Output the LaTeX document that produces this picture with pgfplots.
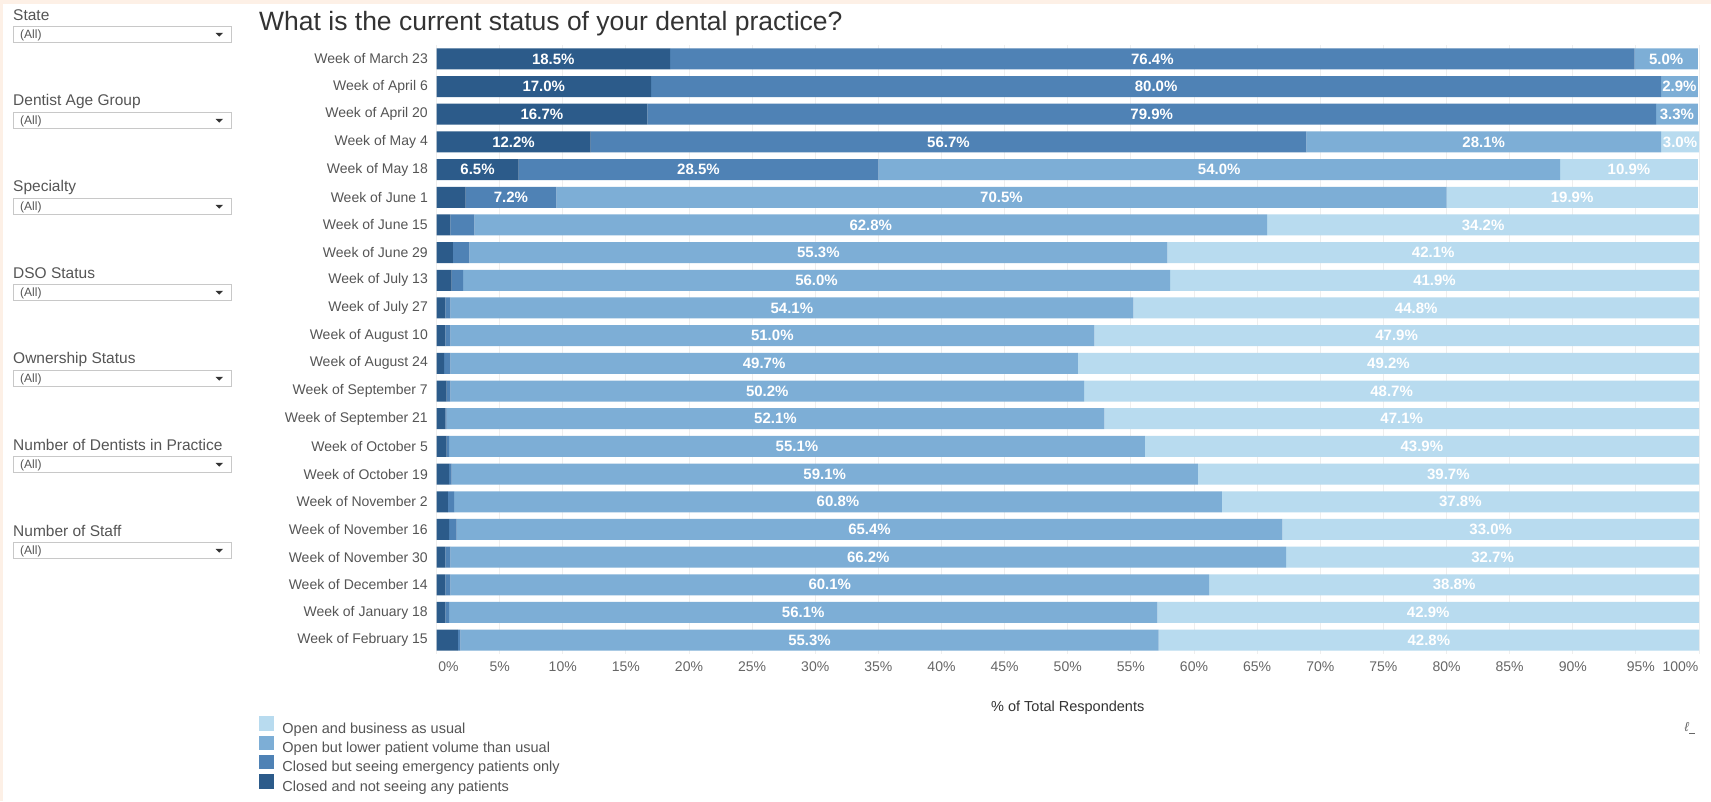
\documentclass[border=0pt]{standalone}
\usepackage{pgfplots}
\pgfplotsset{compat=1.18}
\usepackage{pgfplotstable}
\usepackage{fontspec}
\setmainfont{Liberation Sans}
\definecolor{cA}{HTML}{2C5B8A}
\definecolor{cB}{HTML}{4F82B5}
\definecolor{cC}{HTML}{7DAED6}
\definecolor{cD}{HTML}{B8DBEF}
\definecolor{txt}{HTML}{555555}
\definecolor{tickc}{HTML}{666666}
\definecolor{titlec}{HTML}{333333}
\definecolor{gridc}{HTML}{EEEEEE}
\definecolor{boxgray}{HTML}{C8C8C8}
\definecolor{peach}{HTML}{FDF0E6}
\newcommand{\fs}[1]{\fontsize{#1}{#1}\selectfont}
\pgfplotsset{sqlegend/.style={legend image code/.code={\fill[##1] (0pt,-2.2pt) rectangle (15pt,12.3pt); \path (23.6pt,0pt);}}}

\pgfplotstableread{
idx a b c d
0 18.5 76.4 5.0 0
1 17.0 80.0 2.9 0
2 16.7 79.9 3.3 0
3 12.2 56.7 28.1 3.0
4 6.5 28.5 54.0 10.9
5 2.3 7.2 70.5 19.9
6 1.1 1.9 62.8 34.2
7 1.3 1.3 55.3 42.1
8 1.2 0.9 56.0 41.9
9 0.7 0.4 54.1 44.8
10 0.7 0.4 51.0 47.9
11 0.6 0.5 49.7 49.2
12 0.8 0.3 50.2 48.7
13 0.7 0.1 52.1 47.1
14 0.8 0.2 55.1 43.9
15 1.0 0.2 59.1 39.7
16 0.9 0.5 60.8 37.8
17 1.0 0.6 65.4 33.0
18 0.7 0.4 66.2 32.7
19 0.7 0.4 60.1 38.8
20 0.7 0.3 56.1 42.9
21 1.7 0.2 55.3 42.8
}\data

\begin{document}
\begin{tikzpicture}[x=1pt,y=1pt]
\useasboundingbox (0,0) rectangle (1711,-801);
\fill[white] (0,0) rectangle (1711,-801);
\draw[peach, line width=4pt] (0,-2) -- (1711,-2);
\draw[peach, line width=3pt] (1.5,0) -- (1.5,-801);
% title
\node[anchor=west, inner sep=0pt, text=titlec] at (259,-24) {\fs{26.5}What is the current status of your dental practice?};
% filter panel
\foreach \lab [count=\i from 0] in {State, Dentist Age Group, Specialty, DSO Status, Ownership Status, Number of Dentists in Practice, Number of Staff} {
  \pgfmathsetmacro{\yy}{-86*\i}
  \node[anchor=west, inner sep=0pt, text=txt] at (13,\yy-15.3) {\fs{15.5}\lab};
  \draw[boxgray, fill=white] (13,\yy-26.2) rectangle (231,\yy-42.6);
  \node[anchor=west, inner sep=0pt, text=txt] at (20,\yy-35.2) {\fs{12}(All)};
  \fill[black!80] (215.5,\yy-32.8) -- (223,\yy-32.8) -- (219.25,\yy-36.6) -- cycle;
}
% small icon bottom right
\node[anchor=center, inner sep=0pt, text=tickc] at (1690,-728) {\fs{13}\textit{ℓ}\rule[-2pt]{6pt}{0.6pt}};
\begin{axis}[
  at={(436.5pt,-654pt)}, anchor=south west,
  scale only axis, width=1262.5pt, height=609pt,
  xbar stacked, bar width=21pt,
  xmin=0, xmax=100, ymin=-0.5, ymax=21.5, y dir=reverse,
  axis line style={draw=none}, tick style={draw=none},
  xmajorgrids, grid style={gridc, line width=0.8pt},
  xtick={0,5,...,100},
  xticklabels={\hspace*{24pt}0\%,5\%,10\%,15\%,20\%,25\%,30\%,35\%,40\%,45\%,50\%,55\%,60\%,65\%,70\%,75\%,80\%,85\%,90\%,\hspace*{10pt}95\%,100\%\hspace*{37pt}},
  ytick={0,1,...,21},
  yticklabels={Week of March 23,Week of April 6,Week of April 20,Week of May 4,Week of May 18,Week of June 1,Week of June 15,Week of June 29,Week of July 13,Week of July 27,Week of August 10,Week of August 24,Week of September 7,Week of September 21,Week of October 5,Week of October 19,Week of November 2,Week of November 16,Week of November 30,Week of December 14,Week of January 18,Week of February 15},
  yticklabel style={font=\fs{14}, text=txt, inner sep=0pt, xshift=-8.5pt},
  xticklabel style={font=\fs{14}, text=tickc, inner sep=0pt, yshift=-8pt},
  xlabel={\% of Total Respondents},
  xlabel style={at={(axis description cs:0.5,-0.0887)}, anchor=center, font=\fs{14.5}, text=titlec},
  nodes near coords={\ifdim\rawx pt<2.5pt\relax\else\pgfmathprintnumber[fixed,fixed zerofill,precision=1,assume math mode=true]{\rawx}\%\fi},
  nodes near coords align=center,
  every node near coord/.append style={anchor=center, font=\fs{15}\bfseries, text=white, inner sep=0pt},
  reverse legend,
  legend cell align=left,
  legend style={at={(-0.1409,-0.1020)}, anchor=north west, draw=none, fill=none, inner sep=0pt, nodes={inner sep=0pt, text=txt, font=\fs{14.5}}, row sep=1pt},
]
\addplot[fill=cA, draw=none, visualization depends on={\thisrow{a}\as\rawx}, sqlegend] table[x=a,y=idx]{\data};
\addlegendentry{Closed and not seeing any patients}
\addplot[fill=cB, draw=none, visualization depends on={\thisrow{b}\as\rawx}, sqlegend] table[x=b,y=idx]{\data};
\addlegendentry{Closed but seeing emergency patients only}
\addplot[fill=cC, draw=none, visualization depends on={\thisrow{c}\as\rawx}, sqlegend] table[x=c,y=idx]{\data};
\addlegendentry{Open but lower patient volume than usual}
\addplot[fill=cD, draw=none, visualization depends on={\thisrow{d}\as\rawx}, sqlegend] table[x=d,y=idx]{\data};
\addlegendentry{Open and business as usual}
\end{axis}
\end{tikzpicture}
\end{document}
